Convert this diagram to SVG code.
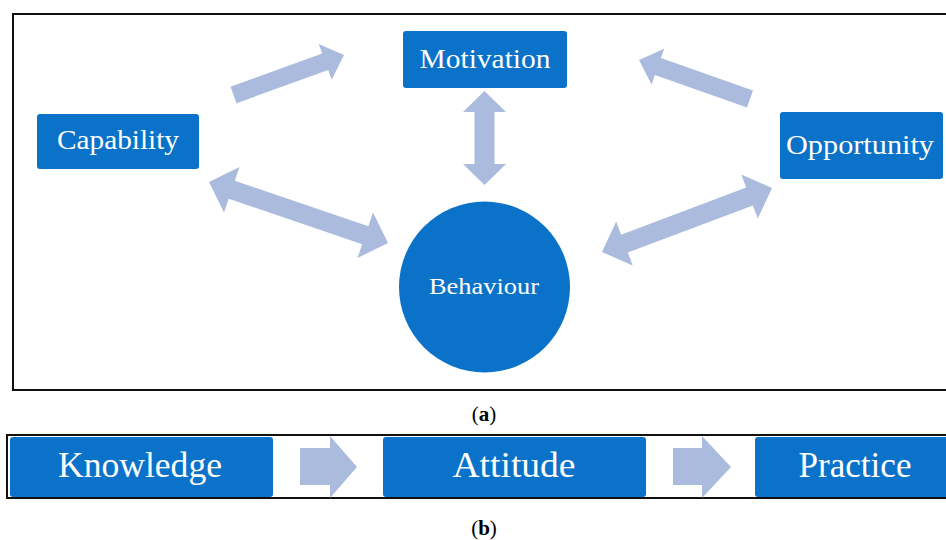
<svg xmlns="http://www.w3.org/2000/svg" width="946" height="540" viewBox="0 0 946 540">
<style>
.frame{fill:none;stroke:#111;stroke-width:2}
.box{fill:#0A72C9}
.arr{fill:#AABBDD}
.t{font-family:"Liberation Serif",serif;fill:#fff;text-anchor:middle}
.cap{font-family:"Liberation Serif",serif;fill:#000;text-anchor:middle;font-size:21px}
</style>
<rect width="946" height="540" fill="#fff"/>
<rect class="frame" x="13" y="14" width="945" height="376"/>
<rect class="frame" x="7" y="435" width="945" height="63" stroke-width="1.6"/>
<g id="connectors">
<polygon class="arr" points="230.5,86.8 322.2,53.6 318.7,43.9 344,55 331.7,79.7 328.2,70 236.5,103.2"/>
<polygon class="arr" points="753,90.5 660.9,58.1 664.2,48.7 639,60 651.6,84.6 654.9,75.1 747,107.5"/>
<polygon class="arr" points="484.5,91 506,112 494.5,112 494.5,164 506,164 484.5,185 463,164 474.5,164 474.5,112 463,112"/>
<polygon class="arr" points="209,182 224,212.5 228.7,198.7 362.2,244.3 357.5,258 388,243 373,212.5 368.4,226.3 234.8,180.8 239.5,167"/>
<polygon class="arr" points="602,252 632.7,265.5 627.8,252.4 752.9,205.4 757.8,218.5 772,188 741.3,174.5 746.2,187.6 621.1,234.7 616.2,221.6"/>
<polygon class="arr" points="300,448 330,448 330,436 357,467 330,498 330,485 300,485"/>
<polygon class="arr" points="673,448 702,448 702,436 731,467 702,498 702,485 673,485"/>
</g>
<g id="capability">
<rect class="box" x="37" y="114" width="162" height="55" rx="3"/>
<text class="t" x="118" y="149" font-size="28" textLength="122" lengthAdjust="spacingAndGlyphs">Capability</text>
</g>
<g id="motivation">
<rect class="box" x="403" y="31" width="164" height="57" rx="3"/>
<text class="t" x="485" y="68" font-size="28" textLength="131" lengthAdjust="spacingAndGlyphs">Motivation</text>
</g>
<g id="opportunity">
<rect class="box" x="780" y="112" width="163" height="67" rx="3"/>
<text class="t" x="860" y="154" font-size="28" textLength="148" lengthAdjust="spacingAndGlyphs">Opportunity</text>
</g>
<g id="behaviour">
<circle class="box" cx="484.5" cy="287" r="85.5"/>
<text class="t" x="484" y="294" font-size="24" textLength="110" lengthAdjust="spacingAndGlyphs">Behaviour</text>
</g>
<g id="knowledge">
<rect class="box" x="10" y="437" width="263" height="60" rx="3"/>
<text class="t" x="140" y="477" font-size="36" textLength="164" lengthAdjust="spacingAndGlyphs">Knowledge</text>
</g>
<g id="attitude">
<rect class="box" x="383" y="437" width="263" height="60" rx="3"/>
<text class="t" x="514" y="477" font-size="36" textLength="123" lengthAdjust="spacingAndGlyphs">Attitude</text>
</g>
<g id="practice">
<rect class="box" x="755" y="437" width="200" height="60" rx="3"/>
<text class="t" x="855" y="477" font-size="36" textLength="113" lengthAdjust="spacingAndGlyphs">Practice</text>
</g>
<text class="cap" x="484" y="421">(<tspan font-weight="bold">a</tspan>)</text>
<text class="cap" x="484" y="535">(<tspan font-weight="bold">b</tspan>)</text>
</svg>
